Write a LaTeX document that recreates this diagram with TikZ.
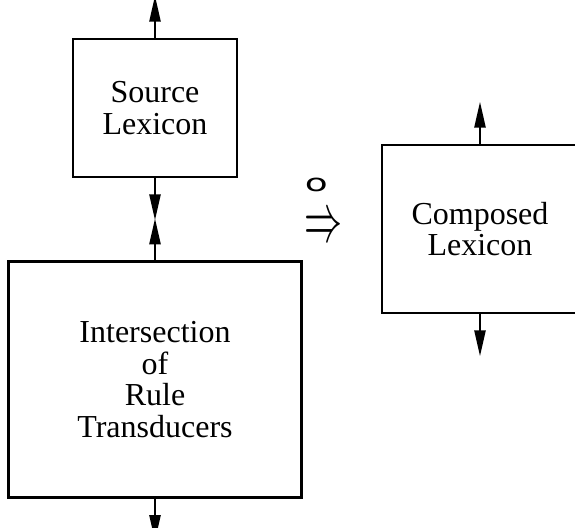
\documentclass[tikz,border=0pt]{standalone}
\usepackage{fontspec}
\setmainfont{Liberation Serif}
\newfontfamily\opfont{DejaVu Sans}
\usetikzlibrary{arrows.meta, positioning}
\tikzset{
  lex/.style={draw, line width=1.35pt, align=center, font=\fontsize{16}{15.8}\selectfont},
  arr/.style={-{Triangle[length=13pt, width=5.5pt]}, line width=1.25pt},
  sym/.style={inner sep=0pt, align=left, font=\fontsize{18}{25}\selectfont},
}

\begin{document}
\begin{tikzpicture}[x=0.5pt, y=-0.5pt]
  \useasboundingbox (0,0) rectangle (575,528);
  \clip (0,0) rectangle (575,528);

  % the lexicons and the rule transducers
  \node[lex, minimum width=82pt, minimum height=69pt] (src) at (155,108) {Source\\Lexicon};
  \node[lex, minimum width=146.5pt, minimum height=118pt, below=41pt of src] (inter) {Intersection\\of\\Rule\\Transducers};
  \node[lex, minimum width=98pt, minimum height=84pt] (comp) at (480,229) {Composed\\Lexicon};

  % tapes going in and out
  \coordinate[above=21pt of src.north] (srcup);
  \coordinate[below=21pt of src.south] (srcdown);
  \coordinate[above=21pt of inter.north] (interup);
  \coordinate[below=21pt of inter.south] (interdown);
  \coordinate[above=21pt of comp.north] (compup);
  \coordinate[below=21pt of comp.south] (compdown);

  \draw[arr] (src) -- (srcup);
  \draw[arr] (src) -- (srcdown);
  \draw[arr] (inter) -- (interup);
  \draw[arr] (inter) -- (interdown);
  \draw[arr] (comp) -- (compup);
  \draw[arr] (comp) -- (compdown);

  % composition gives
  \node[sym] (yields) at (324,210)
    {{\fontsize{15}{15}\selectfont\opfont\scalebox{1.25}[0.8]{o}}\\
     \scalebox{1.1}[2]{$\Rightarrow$}};
\end{tikzpicture}
\end{document}
